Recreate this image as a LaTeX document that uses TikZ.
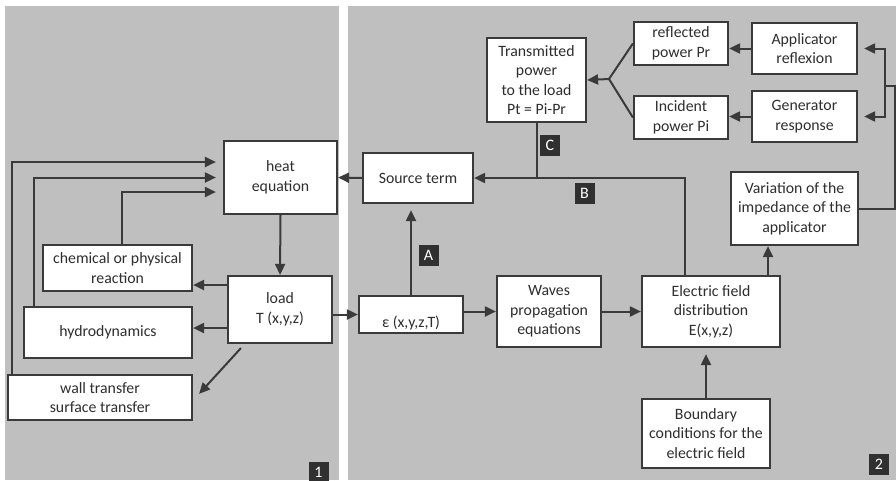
\documentclass[tikz,border=0pt]{standalone}
\usepackage{fontspec}
\setmainfont{Carlito}
\usetikzlibrary{arrows.meta,calc}

\definecolor{panelgray}{HTML}{BFBFBF}
\definecolor{ink}{HTML}{3A3A3A}
\definecolor{tagfill}{HTML}{303030}
\definecolor{textgray}{HTML}{2E2E2E}

\tikzset{
  box/.style={draw=ink, line width=2.2pt, fill=white, align=center,
    inner sep=2pt, text=textgray, font=\fontsize{15.8}{19.5}\selectfont},
  link/.style={draw=ink, line width=2pt},
  arr/.style={link, -{Triangle[length=11pt,width=10pt]}},
  gap/.style={shorten >=7pt},
  tag/.style={fill=tagfill, text=white, inner sep=0pt, minimum width=20pt,
    minimum height=21pt, font=\fontsize{16}{16}\selectfont},
}

\begin{document}
\begin{tikzpicture}[x=1pt, y=-1pt]
\useasboundingbox (0,0) rectangle (896,480);
\fill[white] (0,0) rectangle (896,480);

% two panels
\fill[panelgray] (5,6) rectangle (339,480);
\fill[panelgray] (348,6) rectangle (896,480);

% ---------- panel 1 : thermal side ----------
\node[box, minimum width=113pt, minimum height=73pt] (heat) at (280.5,177.5) {heat\\equation};
\node[box, minimum width=104pt, minimum height=67pt] (load) at (280,309.5) {load\\T (x,y,z)};
\node[box, minimum width=149pt, minimum height=46pt] (chem) at (117.5,268) {chemical or physical\\reaction};
\node[box, minimum width=168pt, minimum height=51pt] (hydro) at (108,332.5) {hydrodynamics};
\node[box, minimum width=184pt, minimum height=45pt] (wall) at (100,397.5) {wall transfer\\surface transfer};

% ---------- panel 2 : electromagnetic side ----------
\node[box, minimum width=104pt, minimum height=37pt, text height=29pt, text depth=4pt] (eps) at (411,314.5) {ε (x,y,z,T)};
\node[box, minimum width=110pt, minimum height=50pt] (source) at (418,178) {Source term};
\node[box, minimum width=99pt, minimum height=84pt] (trans) at (536.5,80) {Transmitted\\power\\to the load\\Pt = Pi-Pr};
\node[box, minimum width=94pt, minimum height=43pt] (refl) at (681,43.5) {reflected\\power Pr};
\node[box, minimum width=94pt, minimum height=43pt] (inc) at (681,117.5) {Incident\\power Pi};
\node[box, minimum width=105pt, minimum height=51pt] (appl) at (804.5,48.5) {Applicator\\reflexion};
\node[box, minimum width=105pt, minimum height=51pt] (gen) at (804.5,116.5) {Generator\\response};
\node[box, minimum width=127pt, minimum height=73pt] (var) at (794.5,208.5) {Variation of the\\impedance of the\\applicator};
\node[box, minimum width=104pt, minimum height=71pt] (waves) at (549,311.5) {Waves\\propagation\\equations};
\node[box, minimum width=138pt, minimum height=71pt] (elec) at (711,311.5) {Electric field\\distribution\\E(x,y,z)};
\node[box, minimum width=128pt, minimum height=69pt] (bound) at (706,433.5) {Boundary\\conditions for the\\electric field};

% ---------- connectors, panel 1 ----------
\draw[arr] (heat.south) -- (load.north);
\draw[arr] (load.west |- 0,285) -- (chem.east |- 0,285);
\draw[arr] (load.west |- 0,328) -- (hydro.east |- 0,328);
\draw[arr] ([xshift=14pt,yshift=-4pt]load.south west) -- ([xshift=6pt,yshift=-20pt]wall.north east);
\draw[arr, gap] ([xshift=5pt]wall.north west) |- ([yshift=15.5pt]heat.west);
\draw[arr, gap] ([xshift=11pt]hydro.north west) |- (heat.west);
\draw[arr, gap] ([xshift=80pt]chem.north west) |- ([yshift=-14.5pt]heat.west);

% ---------- connectors, panel 2 ----------
\draw[arr] (source.west) -- (heat.east);
\draw[arr] (load.east |- eps.west) -- (eps.west);
\draw[arr] (eps.east |- waves.west) -- (waves.west);
\draw[arr] (waves.east) -- (elec.west);
\draw[arr, shorten >=6pt] (eps.north) -- (eps.north |- source.south);
\draw[arr, shorten >=6pt] (bound.north) -- (elec.south -| bound.north);
\draw[arr] ([xshift=57pt]elec.north) -- ([xshift=57pt]elec.north |- var.south);
\draw[arr] ([xshift=-26pt]elec.north) |- (source.east);
\draw[link] (trans.south) -- (trans.south |- source.east);

% power balance fork
\coordinate (fork) at (609,79);
\draw[link] (refl.west) -- (fork) -- (inc.west);
\draw[arr] (fork) -- (trans.east);
\draw[arr] (appl.west) -- (refl.east |- appl.west);
\draw[arr] (gen.west) -- (inc.east |- gen.west);

% impedance feedback loop
\coordinate (rt) at (895,86);
\coordinate (br) at (885,86);
\draw[link] (var.east) -| (rt) -- (br);
\draw[arr] (br) |- ([xshift=6pt]appl.east);
\draw[arr] (br) |- ([xshift=6pt]gen.east);

% ---------- tags ----------
\node[tag] (tagA) at (428.5,255.5) {A};
\node[tag] (tagB) at (584.5,193.5) {B};
\node[tag] (tagC) at (550,145.5) {C};
\node[tag] (tag1) at (318.5,472) {1};
\node[tag] (tag2) at (879,464.5) {2};
\end{tikzpicture}
\end{document}
